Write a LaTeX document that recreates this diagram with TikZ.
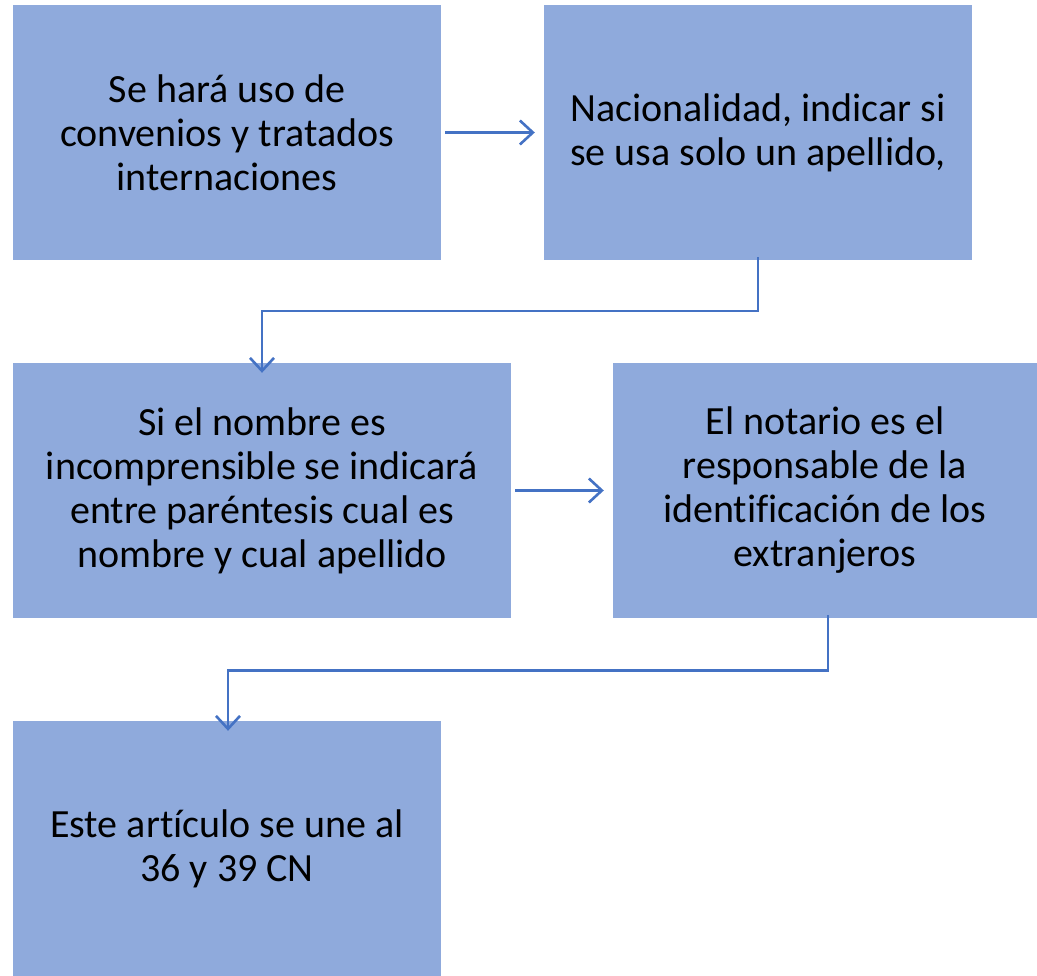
\documentclass[tikz,border=0pt]{standalone}
\usepackage{fontspec}
\setmainfont[Ligatures=NoCommon]{Carlito}
\usetikzlibrary{arrows.meta}
\definecolor{boxfill}{HTML}{8FAADC}
\definecolor{linec}{HTML}{4472C4}
\begin{document}
\begin{tikzpicture}[x=1pt,y=-1pt,
  box/.style={fill=boxfill,draw=none,inner sep=0pt,align=center,
    font=\fontsize{40}{44}\selectfont},
  conn/.style={draw=linec,line width=2.6pt,-{Straight Barb[length=13pt,width=24pt,line width=2.6pt]}}]
\useasboundingbox (0,0) rectangle (1037,976);
\node[box,minimum width=428pt,minimum height=255pt] (b1) at (227,132.5) {Se hará uso de\\convenios y tratados\\internaciones};
\node[box,minimum width=428pt,minimum height=255pt] (b2) at (758,132.5) {Nacionalidad, indicar si\\se usa solo un apellido,};
\node[box,minimum width=498pt,minimum height=255pt] (b3) at (262,490.5) {Si el nombre es\\incomprensible se indicará\\entre paréntesis cual es\\nombre y cual apellido};
\node[box,minimum width=424pt,minimum height=255pt] (b4) at (825,490.5) {El notario es el\\responsable de la\\identificación de los\\extranjeros};
\node[box,minimum width=428pt,minimum height=255pt] (b5) at (227,848.5) {Este artículo se une al\\36 y 39 CN};
\draw[conn] ([xshift=4pt]b1.east) -- ([xshift=-9pt]b2.west);
\draw[conn] ([xshift=4pt]b3.east) -- ([xshift=-9pt]b4.west);
\draw[conn] ([yshift=3pt]b2.south) -- ++(0,54) -| ([yshift=-10pt]b3.north);
\draw[conn] ([yshift=3pt,xshift=3pt]b4.south) -- ++(0,55) -| ([yshift=-10pt,xshift=1pt]b5.north);
\end{tikzpicture}
\end{document}
